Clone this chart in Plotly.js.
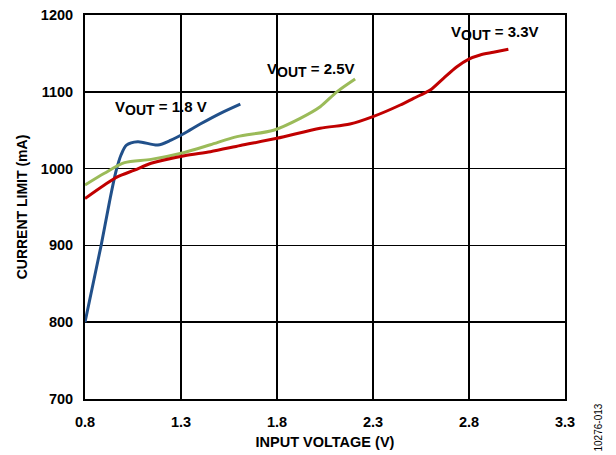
<!DOCTYPE html>
<html><head><meta charset="utf-8">
<script src="https://cdn.plot.ly/plotly-3.0.1.min.js"></script>
<style>html,body{margin:0;padding:0;background:#fff}#c{width:616px;height:455px}</style>
</head><body><div id="c"></div>
<script>
const v18 = [0.80, 0.884, 0.927, 0.96, 0.988, 1.016, 1.075, 1.179, 1.248, 1.318, 1.40, 1.505, 1.609];
const i18 = [800, 900, 956, 995, 1018, 1030.5, 1035, 1030.7, 1037, 1046, 1058, 1072, 1084];
const v25 = [0.80, 0.901, 1.006, 1.144, 1.318, 1.453, 1.592, 1.782, 1.921, 2.025, 2.112, 2.207];
const i25 = [978.6, 993.9, 1007.7, 1012, 1021, 1031, 1041.6, 1050, 1065.5, 1080.6, 1100, 1116.7];
const v33 = [0.80, 0.901, 0.971, 1.058, 1.144, 1.318, 1.453, 1.609, 1.80, 2.025, 2.18, 2.303, 2.442, 2.511, 2.598, 2.667, 2.737, 2.797, 2.858, 2.927, 3.005];
const i33 = [961, 978.6, 989.5, 998, 1006.9, 1016.8, 1022, 1030, 1039.4, 1052.5, 1058, 1068, 1082.8, 1091.5, 1102.3, 1117.6, 1132.7, 1142.3, 1148, 1151.4, 1155.3];
const xTicks = [0.8, 1.3, 1.8, 2.3, 2.8, 3.3];
const yTicks = [700, 800, 900, 1000, 1100, 1200];
const labelVal = ["1.8 V", "2.5V", "3.3V"];
const labelX = [1.198, 1.978, 2.936];
const labelY = [1079, 1128, 1176.5];

const F = "Liberation Sans, Arial, sans-serif";
const traces = [
  {x: v18, y: i18, mode: 'lines', line: {color: '#21508a', width: 3, shape: 'spline', smoothing: 0.8}},
  {x: v25, y: i25, mode: 'lines', line: {color: '#9bbb59', width: 3, shape: 'spline', smoothing: 0.8}},
  {x: v33, y: i33, mode: 'lines', line: {color: '#c00000', width: 3, shape: 'spline', smoothing: 0.8}}
];
const ann = labelVal.map((t, k) => ({x: labelX[k], y: labelY[k],
  text: '<b>V<sub><span style="font-size:14px">OUT</span></sub> = ' + t + '</b>', showarrow: false,
  font: {family: F, size: 15, color: '#000'}, xref: 'x', yref: 'y'}));
ann.push({x: 1.0, y: 0, xref: 'paper', yref: 'paper', xanchor: 'left', yanchor: 'bottom', xshift: 25, yshift: -55,
  text: '10276-013', textangle: -90, showarrow: false, font: {family: F, size: 10, color: '#000'}});
const layout = {
  width: 616, height: 455,
  margin: {l: 85, r: 51, t: 15, b: 56},
  paper_bgcolor: '#fff', plot_bgcolor: '#fff',
  showlegend: false,
  font: {family: F, color: '#000'},
  xaxis: {range: [0.8, 3.3], tickvals: xTicks, ticktext: xTicks.map(v => '<b>' + v.toFixed(1) + '</b>'),
    showgrid: true, gridcolor: '#000', gridwidth: 1.5, zeroline: false,
    showline: true, linecolor: '#000', linewidth: 2, mirror: true,
    ticks: 'outside', ticklen: 9, tickcolor: 'rgba(0,0,0,0)',
    tickfont: {family: F, size: 14.5},
    title: {text: '<b>INPUT VOLTAGE (V)</b>', font: {family: F, size: 14.5}, standoff: 7}},
  yaxis: {range: [700, 1200], tickvals: yTicks, ticktext: yTicks.map(v => '<b>' + v + '</b>'),
    showgrid: true, gridcolor: '#000', gridwidth: 1.5, zeroline: false,
    showline: true, linecolor: '#000', linewidth: 2, mirror: true,
    ticks: 'outside', ticklen: 7, tickcolor: 'rgba(0,0,0,0)',
    tickfont: {family: F, size: 14.5},
    title: {text: '<b>CURRENT LIMIT (mA)</b>', font: {family: F, size: 14}, standoff: 10}},
  annotations: ann
};
Plotly.newPlot('c', traces, layout, {displayModeBar: false, staticPlot: true});
</script></body></html>
